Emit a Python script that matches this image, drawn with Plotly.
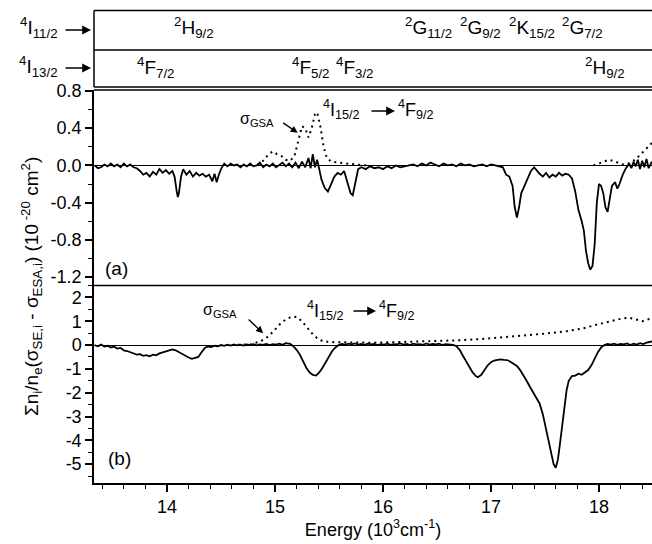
import plotly.graph_objects as go

# ---------------- data ----------------
# panel (a): sum spectrum (solid) and ground-state absorption (dotted)
a_E = [13.33,13.36,13.39,13.42,13.45,13.48,13.51,13.54,13.57,13.60,13.63,13.66,13.69,13.72,13.75,
       13.78,13.81,13.84,13.87,13.90,13.93,13.96,13.99,14.02,14.05,14.07,14.09,14.10,14.11,14.13,
       14.15,14.18,14.21,14.24,14.27,14.30,14.33,14.36,14.39,14.42,14.44,14.46,14.48,14.50,14.53,
       14.56,14.59,14.62,14.65,14.68,14.71,14.74,14.77,14.80,14.83,14.86,14.89,14.92,14.95,14.98,
       15.01,15.04,15.07,15.10,15.13,15.16,15.19,15.22,15.25,15.28,15.31,15.33,15.35,15.37,15.39,
       15.41,15.43,15.46,15.49,15.52,15.55,15.58,15.61,15.64,15.67,15.70,15.72,15.74,15.77,15.80,
       15.84,15.88,15.92,15.96,16.00,16.04,16.08,16.12,16.16,16.20,16.24,16.28,16.32,16.36,16.40,
       16.44,16.48,16.52,16.56,16.60,16.64,16.68,16.72,16.76,16.80,16.84,16.88,16.92,16.96,17.00,
       17.04,17.08,17.11,17.14,17.17,17.20,17.22,17.24,17.26,17.28,17.31,17.34,17.37,17.40,17.42,
       17.45,17.48,17.51,17.54,17.57,17.60,17.63,17.66,17.69,17.72,17.75,17.78,17.81,17.84,17.86,
       17.88,17.90,17.92,17.94,17.96,17.98,18.00,18.02,18.04,18.06,18.08,18.10,18.12,18.15,18.17,
       18.19,18.22,18.25,18.28,18.30,18.32,18.34,18.36,18.38,18.40,18.42,18.44,18.46,18.49]
a_sum = [0.00,-0.03,-0.02,0.01,-0.01,0.02,-0.01,0.01,-0.02,0.02,-0.01,0.01,-0.02,-0.03,-0.06,
         -0.10,-0.08,-0.12,-0.07,-0.10,-0.04,-0.08,-0.05,-0.09,-0.06,-0.12,-0.28,-0.34,-0.30,-0.12,
         -0.04,-0.10,-0.06,-0.12,-0.08,-0.11,-0.09,-0.12,-0.10,-0.17,-0.09,-0.18,-0.10,-0.04,0.02,
         -0.01,0.02,0.00,0.01,-0.02,0.01,-0.01,0.02,-0.01,0.00,0.03,-0.02,0.01,-0.01,0.02,
         -0.02,0.01,0.03,-0.01,0.02,-0.02,0.03,-0.03,0.04,-0.02,0.08,-0.03,0.12,-0.02,0.06,
         -0.04,-0.15,-0.24,-0.28,-0.20,-0.12,-0.08,-0.10,-0.06,-0.18,-0.30,-0.32,-0.20,-0.04,-0.02,
         -0.04,-0.01,-0.03,-0.02,-0.04,-0.01,-0.03,0.00,-0.02,-0.01,0.00,0.01,-0.01,0.02,0.00,
         0.03,0.01,-0.01,0.02,0.00,0.01,-0.01,0.02,0.00,0.01,-0.01,0.00,0.01,-0.01,0.01,
         0.00,-0.01,-0.02,-0.10,-0.12,-0.22,-0.45,-0.56,-0.45,-0.30,-0.22,-0.14,-0.06,-0.02,-0.05,
         -0.09,-0.12,-0.08,-0.13,-0.10,-0.12,-0.08,-0.11,-0.09,-0.10,-0.14,-0.28,-0.48,-0.60,-0.70,
         -0.92,-1.05,-1.12,-1.08,-0.85,-0.40,-0.20,-0.22,-0.30,-0.45,-0.50,-0.38,-0.22,-0.18,-0.25,
         -0.20,-0.10,-0.03,0.02,-0.03,0.04,-0.01,0.06,-0.04,0.05,-0.02,0.07,-0.03,0.04]
a_gsa_E = [14.84,14.90,14.94,14.98,15.02,15.06,15.10,15.14,15.18,15.22,15.25,15.28,15.31,15.34,15.37,
           15.39,15.42,15.45,15.48,15.52,15.58,15.66,15.75,15.85,None,
           17.95,18.00,18.05,18.09,18.13,18.17,18.22,18.27,18.32,18.37,18.42,18.46,18.49]
a_gsa = [0.00,0.06,0.12,0.15,0.12,0.10,0.06,0.05,0.10,0.30,0.42,0.40,0.30,0.40,0.55,
         0.57,0.42,0.20,0.08,0.04,0.03,0.02,0.01,0.00,None,
         0.00,0.02,0.04,0.06,0.05,0.03,0.01,0.02,0.05,0.10,0.16,0.21,0.24]

# panel (b)
b_E = [13.33,13.36,13.39,13.42,13.45,13.48,13.51,13.54,13.57,13.60,13.63,13.66,13.69,13.72,13.75,
       13.78,13.81,13.84,13.87,13.90,13.93,13.96,13.99,14.02,14.05,14.08,14.11,14.14,14.17,14.20,
       14.23,14.26,14.29,14.32,14.35,14.38,14.41,14.44,14.47,14.50,14.53,14.56,14.59,14.62,14.65,
       14.68,14.71,14.74,14.77,14.80,14.83,14.86,14.89,14.92,14.95,14.98,15.01,15.04,15.07,15.10,
       15.14,15.17,15.20,15.23,15.26,15.29,15.32,15.35,15.38,15.41,15.44,15.47,15.50,15.53,15.56,
       15.59,15.62,15.65,15.68,15.71,15.74,15.77,15.80,15.83,15.86,15.89,15.92,15.95,15.98,16.01,
       16.04,16.07,16.10,16.13,16.16,16.19,16.22,16.25,16.28,16.31,16.34,16.37,16.40,16.43,16.46,
       16.49,16.52,16.55,16.58,16.61,16.65,16.68,16.71,16.74,16.77,16.80,16.83,16.86,16.88,16.91,
       16.94,16.97,17.00,17.03,17.06,17.09,17.12,17.15,17.18,17.21,17.24,17.27,17.30,17.33,17.36,
       17.39,17.42,17.45,17.48,17.51,17.54,17.56,17.58,17.60,17.62,17.64,17.66,17.68,17.70,17.72,
       17.75,17.78,17.81,17.84,17.87,17.90,17.93,17.96,17.99,18.02,18.05,18.08,18.11,18.14,18.17,
       18.20,18.23,18.26,18.29,18.32,18.35,18.38,18.41,18.44,18.47,18.49]
b_sum = [0.00,-0.05,0.02,-0.06,-0.03,-0.10,-0.07,-0.15,-0.12,-0.22,-0.25,-0.30,-0.35,-0.40,-0.38,
         -0.45,-0.42,-0.47,-0.40,-0.43,-0.35,-0.30,-0.25,-0.20,-0.18,-0.22,-0.30,-0.38,-0.45,-0.52,
         -0.58,-0.55,-0.50,-0.30,-0.12,-0.06,-0.08,-0.03,-0.05,0.00,-0.03,0.02,-0.02,0.03,-0.01,
         0.02,-0.02,0.03,0.00,0.04,-0.01,0.03,0.01,0.05,0.00,0.04,0.02,0.06,0.01,0.08,
         0.05,-0.05,-0.20,-0.40,-0.70,-0.95,-1.15,-1.25,-1.28,-1.15,-0.95,-0.70,-0.45,-0.25,-0.10,
         0.00,0.05,0.02,0.06,0.03,0.07,0.02,0.05,0.01,0.06,0.03,0.05,0.00,0.04,0.02,
         0.06,0.01,0.04,0.03,0.07,0.02,0.05,0.00,0.06,0.03,0.04,0.01,0.07,0.02,0.05,
         0.03,0.06,0.00,0.04,0.02,0.01,-0.05,-0.20,-0.45,-0.70,-0.95,-1.15,-1.30,-1.35,-1.25,
         -1.05,-0.85,-0.72,-0.65,-0.62,-0.60,-0.62,-0.63,-0.70,-0.78,-0.88,-1.05,-1.25,-1.50,-1.75,
         -2.00,-2.20,-2.45,-2.90,-3.50,-4.10,-4.60,-5.00,-5.15,-4.80,-4.10,-3.30,-2.50,-1.90,-1.50,
         -1.30,-1.28,-1.20,-1.25,-1.15,-1.05,-0.85,-0.55,-0.30,-0.10,0.00,0.05,0.02,0.06,0.01,
         0.05,0.03,0.07,0.00,0.06,0.02,0.08,0.04,0.10,0.12,0.15]
b_gsa_E = [14.60,14.70,14.78,14.86,14.92,14.98,15.04,15.10,15.16,15.20,15.25,15.30,15.35,15.40,15.45,
           15.55,15.70,15.90,16.10,16.30,16.50,16.70,16.90,17.10,17.30,17.50,17.70,17.85,18.00,18.10,
           18.20,18.28,18.34,18.40,18.44,18.49]
b_gsa = [0.00,0.00,0.03,0.15,0.30,0.55,0.85,1.08,1.20,1.18,1.00,0.72,0.45,0.25,0.15,
         0.12,0.10,0.10,0.12,0.14,0.17,0.20,0.25,0.32,0.40,0.48,0.58,0.70,0.88,1.00,
         1.10,1.15,1.08,1.00,1.05,1.15]

# level labels (energy positions) for the two upper strips
top_labels = ["<sup>2</sup>H<sub>9/2</sub>", "<sup>2</sup>G<sub>11/2</sub>", "<sup>2</sup>G<sub>9/2</sub>",
              "<sup>2</sup>K<sub>15/2</sub>", "<sup>2</sup>G<sub>7/2</sub>"]
top_E = [14.25, 16.42, 16.90, 17.38, 17.85]
mid_labels = ["<sup>4</sup>F<sub>7/2</sub>", "<sup>4</sup>F<sub>5/2</sub>", "<sup>4</sup>F<sub>3/2</sub>",
              "<sup>2</sup>H<sub>9/2</sub>"]
mid_E = [13.90, 15.33, 15.74, 18.06]

a_ticks = [0.8, 0.4, 0.0, -0.4, -0.8, -1.2]
a_ticktext = ["0.8", "0.4", "0.0", "-0.4", "-0.8", "-1.2"]
b_ticks = [2, 1, 0, -1, -2, -3, -4, -5]
b_ticktext = ["2", "1", "0", "-1", "-2", "-3", "-4", "-5"]
x_ticks = [14, 15, 16, 17, 18]

# ---------------- geometry ----------------
W, H = 652, 544
ML, MR, MT, MB = 94, 0, 10, 61
PW, PH = W - ML - MR, H - MT - MB


def px(xp):
    return (xp - ML) / PW


def py(yp):
    return (H - MB - yp) / PH


FONT = "Liberation Sans, Arial, sans-serif"
BLK = "black"

fig = go.Figure()
fig.add_trace(go.Scatter(x=a_E, y=a_sum, mode="lines", xaxis="x", yaxis="y2",
                         line=dict(color=BLK, width=1.8), showlegend=False))
fig.add_trace(go.Scatter(x=a_gsa_E, y=a_gsa, mode="lines", xaxis="x", yaxis="y2",
                         line=dict(color=BLK, width=2, dash="2px,4px"), showlegend=False,
                         connectgaps=False))
fig.add_trace(go.Scatter(x=b_E, y=b_sum, mode="lines", xaxis="x", yaxis="y",
                         line=dict(color=BLK, width=1.8), showlegend=False))
fig.add_trace(go.Scatter(x=b_gsa_E, y=b_gsa, mode="lines", xaxis="x", yaxis="y",
                         line=dict(color=BLK, width=2, dash="2px,4px"), showlegend=False))

yb_top = py(285.5)
ya_top = py(90)

fig.update_layout(
    width=W, height=H, margin=dict(l=ML, r=MR, t=MT, b=MB),
    paper_bgcolor="white", plot_bgcolor="white",
    font=dict(family=FONT, size=18, color=BLK),
    xaxis=dict(range=[13.324, 18.491], domain=[0, 1], anchor="y",
               tickvals=x_ticks, ticks="outside", ticklen=7, tickwidth=1.5, tickcolor=BLK,
               showline=True, linecolor=BLK, linewidth=1.5, showgrid=False, zeroline=False,
               minor=dict(dtick=0.2, tick0=0, ticks="outside", ticklen=4, tickwidth=1.2,
                          tickcolor=BLK, showgrid=False),
               tickfont=dict(size=18),
               title=dict(text="Energy (10<sup>3</sup>cm<sup>-1</sup>)", font=dict(size=18),
                          standoff=2)),
    yaxis=dict(range=[-5.79, 2.5], domain=[0, yb_top], anchor="x",
               tickvals=b_ticks, ticktext=b_ticktext, ticks="outside", ticklen=7, tickwidth=1.5,
               tickcolor=BLK, showline=True, linecolor=BLK, linewidth=1.5, showgrid=False,
               zeroline=True, zerolinecolor=BLK, zerolinewidth=1.2,
               minor=dict(dtick=0.5, tick0=0, ticks="outside", ticklen=4, tickwidth=1.2,
                          tickcolor=BLK, showgrid=False),
               tickfont=dict(size=18)),
    yaxis2=dict(range=[-1.29, 0.81], domain=[yb_top, ya_top], anchor="x",
                tickvals=a_ticks, ticktext=a_ticktext, ticks="outside", ticklen=7, tickwidth=1.5,
                tickcolor=BLK, showline=True, linecolor=BLK, linewidth=1.5, showgrid=False,
                zeroline=True, zerolinecolor=BLK, zerolinewidth=1.2,
                minor=dict(dtick=0.2, tick0=0, ticks="outside", ticklen=4, tickwidth=1.2,
                           tickcolor=BLK, showgrid=False),
                tickfont=dict(size=18)),
)

shapes = []
# panel borders
for yy in [yb_top, ya_top]:
    shapes.append(dict(type="line", xref="paper", yref="paper", x0=0, x1=1, y0=yy, y1=yy,
                       line=dict(color=BLK, width=1.5)))
# upper level strips
for yy in [py(87), py(50), py(10.5)]:
    shapes.append(dict(type="line", xref="paper", yref="paper", x0=0, x1=1, y0=yy, y1=yy,
                       line=dict(color=BLK, width=1.5)))
shapes.append(dict(type="line", xref="paper", yref="paper", x0=0, x1=0, y0=py(87), y1=py(10.5),
                   line=dict(color=BLK, width=1.5)))
fig.update_layout(shapes=shapes)

ann = []
for t, e in zip(top_labels, top_E):
    ann.append(dict(text=t, x=e, xref="x", y=py(28), yref="paper", showarrow=False,
                    xanchor="center", yanchor="middle", font=dict(size=19)))
for t, e in zip(mid_labels, mid_E):
    ann.append(dict(text=t, x=e, xref="x", y=py(67), yref="paper", showarrow=False,
                    xanchor="center", yanchor="middle", font=dict(size=19)))


def arrow(x_head_px, y_px, length):
    return dict(text="", x=px(x_head_px), xref="paper", y=py(y_px), yref="paper",
                ax=-length, ay=0, showarrow=True, arrowhead=2, arrowsize=1.1,
                arrowwidth=1.6, arrowcolor=BLK)


# left strip labels with arrows
for t, yy in [("<sup>4</sup>I<sub>11/2</sub>", 28), ("<sup>4</sup>I<sub>13/2</sub>", 66)]:
    ann.append(dict(text=t, x=px(60), xref="paper", y=py(yy), yref="paper", showarrow=False,
                    xanchor="right", yanchor="middle", font=dict(size=19)))
    ann.append(arrow(91, yy + 2, 27))

# panel labels
ann.append(dict(text="(a)", x=px(103), xref="paper", y=py(268), yref="paper", showarrow=False,
                xanchor="left", yanchor="middle", font=dict(size=19)))
ann.append(dict(text="(b)", x=px(106), xref="paper", y=py(458), yref="paper", showarrow=False,
                xanchor="left", yanchor="middle", font=dict(size=19)))

# sigma_GSA labels + arrows
ann.append(dict(text="σ<sub>GSA</sub>", x=px(257), xref="paper", y=py(120), yref="paper",
                showarrow=False, xanchor="center", yanchor="middle", font=dict(size=16)))
ann.append(dict(text="", x=15.21, xref="x", y=0.35, yref="y2", ax=-16, ay=-11,
                showarrow=True, arrowhead=2, arrowsize=1, arrowwidth=1.4, arrowcolor=BLK))
ann.append(dict(text="σ<sub>GSA</sub>", x=px(220), xref="paper", y=py(310), yref="paper",
                showarrow=False, xanchor="center", yanchor="middle", font=dict(size=16)))
ann.append(dict(text="", x=14.89, xref="x", y=0.5, yref="y", ax=-16, ay=-15,
                showarrow=True, arrowhead=2, arrowsize=1, arrowwidth=1.4, arrowcolor=BLK))

# transition labels
for (xi, xa0, xa1, xf, yy) in [(362, 370, 395, 396, 110), (346, 352, 376, 377, 310)]:
    ann.append(dict(text="<sup>4</sup>I<sub>15/2</sub>", x=px(xi), xref="paper", y=py(yy),
                    yref="paper", showarrow=False, xanchor="right", yanchor="middle",
                    font=dict(size=18)))
    ann.append(arrow(xa1, yy + 1, xa1 - xa0))
    ann.append(dict(text="<sup>4</sup>F<sub>9/2</sub>", x=px(xf), xref="paper", y=py(yy),
                    yref="paper", showarrow=False, xanchor="left", yanchor="middle",
                    font=dict(size=18)))

# y-axis title
ann.append(dict(text="Σn<sub>i</sub>/n<sub>e</sub>(σ<sub>SE,i</sub> - σ<sub>ESA,i</sub>) (10<sup> -20</sup> cm<sup>2</sup>)",
                x=px(31), xref="paper", y=py(287), yref="paper", showarrow=False,
                textangle=-90, xanchor="center", yanchor="middle", font=dict(size=19)))

fig.update_layout(annotations=ann)
fig.write_html("out.html", config={"displayModeBar": False},
               post_script="document.body.style.margin='0';document.body.style.overflow='hidden';")
